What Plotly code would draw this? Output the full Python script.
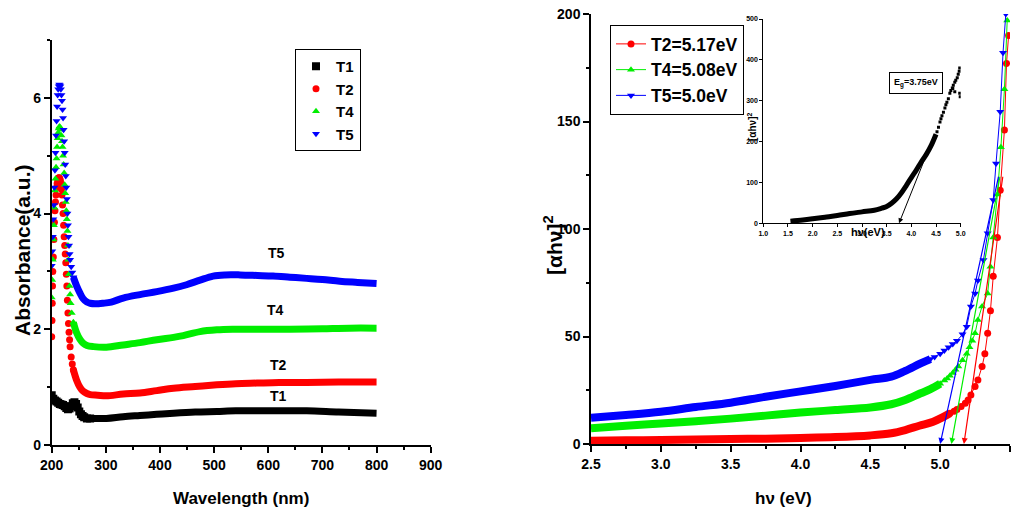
import plotly.graph_objects as go

W, H = 1016, 517
def px(x): return x / W
def py(y): return 1 - y / H

SANS = "Liberation Sans, Arial, sans-serif"

# ---------------- Left panel: absorbance vs wavelength ----------------
t1_peak_wl = [200, 203, 206, 209, 212, 215, 218, 221, 224, 227, 230, 233, 236, 239, 242, 245, 248, 251, 254, 257, 260, 265, 271]
t1_peak_ab = [0.86, 0.80, 0.77, 0.75, 0.73, 0.71, 0.70, 0.69, 0.67, 0.64, 0.62, 0.63, 0.67, 0.72, 0.74, 0.71, 0.65, 0.58, 0.53, 0.50, 0.48, 0.46, 0.46]
t1_tail_wl = [271, 301, 332, 363, 394, 425, 465, 505, 540, 579, 620, 671, 730, 800]
t1_tail_ab = [0.46, 0.46, 0.49, 0.51, 0.53, 0.55, 0.57, 0.58, 0.59, 0.59, 0.59, 0.59, 0.57, 0.55]

t2_peak_wl = [200, 200.5, 201, 201.5, 202, 203, 204, 205, 206, 207, 208, 209, 210, 211, 212, 213, 214, 215, 216, 217, 218, 219, 220, 221, 222, 223, 224, 225, 226, 227, 228, 229, 230, 231, 232, 233, 234, 236, 238, 240]
t2_peak_ab = [1.87, 2.15, 2.45, 2.75, 3.00, 3.25, 3.55, 3.85, 4.05, 4.20, 4.32, 4.45, 4.52, 4.58, 4.61, 4.62, 4.62, 4.60, 4.57, 4.52, 4.42, 4.32, 4.15, 4.00, 3.80, 3.60, 3.45, 3.30, 3.15, 2.95, 2.75, 2.50, 2.28, 2.10, 1.95, 1.82, 1.70, 1.52, 1.40, 1.30]
t2_tail_wl = [240, 246, 252, 258, 265, 271, 285, 301, 332, 363, 394, 425, 465, 505, 540, 579, 620, 671, 730, 800]
t2_tail_ab = [1.30, 1.12, 1.00, 0.93, 0.89, 0.87, 0.86, 0.85, 0.88, 0.90, 0.94, 0.98, 1.01, 1.04, 1.06, 1.07, 1.08, 1.08, 1.09, 1.09]

t4_peak_wl = [200, 201, 202, 203, 204, 205, 206, 207, 208, 209, 210, 211, 212, 213, 214, 215, 216, 217, 218, 219, 220, 221, 222, 223, 224, 225, 226, 227, 228, 229, 230, 231, 232, 233, 234, 235, 237, 240]
t4_peak_ab = [2.55, 2.85, 3.20, 3.55, 3.80, 4.10, 4.40, 4.60, 4.80, 4.95, 5.15, 5.30, 5.40, 5.47, 5.50, 5.50, 5.48, 5.45, 5.35, 5.25, 5.15, 5.00, 4.85, 4.70, 4.50, 4.35, 4.20, 4.05, 3.90, 3.70, 3.45, 3.20, 2.95, 2.75, 2.60, 2.45, 2.28, 2.12]
t4_tail_wl = [240, 246, 252, 258, 265, 277, 301, 332, 363, 394, 425, 443, 474, 505, 535, 566, 600, 640, 700, 750, 800]
t4_tail_ab = [2.12, 1.94, 1.83, 1.76, 1.72, 1.70, 1.69, 1.73, 1.77, 1.82, 1.86, 1.89, 1.96, 1.99, 2.00, 2.00, 2.00, 2.00, 2.01, 2.02, 2.02]

t5_peak_wl = [200, 201, 202, 203, 204, 205, 206, 207, 208, 209, 210, 211, 212, 213, 214, 215, 216, 217, 218, 219, 220, 221, 222, 223, 224, 225, 226, 227, 228, 229, 230, 231, 232, 233, 234, 236, 238, 240]
t5_peak_ab = [3.10, 3.35, 3.60, 3.90, 4.15, 4.45, 4.75, 5.05, 5.35, 5.60, 5.85, 6.05, 6.15, 6.20, 6.23, 6.22, 6.20, 6.15, 6.05, 5.95, 5.80, 5.65, 5.45, 5.25, 5.05, 4.85, 4.65, 4.45, 4.25, 4.00, 3.80, 3.60, 3.45, 3.30, 3.20, 3.08, 2.98, 2.90]
t5_tail_wl = [240, 246, 252, 258, 265, 271, 280, 295, 310, 332, 363, 394, 425, 449, 474, 498, 520, 548, 580, 609, 640, 671, 700, 732, 765, 800]
t5_tail_ab = [2.90, 2.75, 2.63, 2.53, 2.47, 2.45, 2.44, 2.45, 2.47, 2.54, 2.60, 2.65, 2.71, 2.77, 2.85, 2.92, 2.94, 2.94, 2.93, 2.92, 2.90, 2.88, 2.86, 2.83, 2.81, 2.79]

left_names = ["T1", "T2", "T4", "T5"]
left_colors = ["#000000", "#ff0000", "#00ee00", "#0000ff"]
left_symbols = ["square", "circle", "triangle-up", "triangle-down"]
left_label_wl = [619, 619, 613, 616]
left_label_ab = [0.84, 1.38, 2.34, 3.32]

# ---------------- Right panel: Tauc plot ----------------
t2_flat_e = [2.5, 2.75, 3.0, 3.25, 3.5, 3.75, 4.0, 4.25, 4.5, 4.65, 4.75, 4.85, 4.95, 5.02, 5.07]
t2_flat_v = [1.5, 1.7, 1.9, 2.1, 2.3, 2.5, 2.8, 3.2, 4.0, 5.0, 6.5, 8.5, 10.4, 12.5, 14.3]
t2_steep_e = [5.07, 5.10, 5.12, 5.15, 5.18, 5.20, 5.22, 5.25, 5.27, 5.30, 5.32, 5.34, 5.36, 5.38, 5.41, 5.43, 5.46, 5.475, 5.49]
t2_steep_v = [14.3, 15.2, 16.0, 17.4, 19.0, 20.5, 22.8, 26.7, 29.8, 36, 42, 51.5, 62, 78, 96, 118, 146, 177, 190]

t4_flat_e = [2.5, 2.75, 3.0, 3.25, 3.5, 3.75, 4.0, 4.25, 4.5, 4.65, 4.75, 4.86, 4.93, 5.00]
t4_flat_v = [7.3, 8.5, 9.5, 10.6, 11.8, 13.2, 14.6, 15.8, 17.0, 18.5, 20.5, 23.6, 25.5, 28]
t4_steep_e = [5.00, 5.03, 5.05, 5.07, 5.09, 5.11, 5.13, 5.16, 5.19, 5.21, 5.23, 5.25, 5.27, 5.30, 5.34, 5.36, 5.38, 5.41, 5.435, 5.46, 5.48]
t4_steep_v = [28, 29.5, 30.5, 31.8, 33, 34.5, 36, 39, 42, 45, 48, 51.5, 57.7, 64, 70, 82.5, 96, 116, 138, 165, 197]

t5_flat_e = [2.5, 2.75, 3.0, 3.25, 3.5, 3.75, 4.0, 4.25, 4.5, 4.65, 4.75, 4.86, 4.93]
t5_flat_v = [12.2, 13.5, 15.0, 17.2, 19.2, 22.0, 24.5, 27.0, 29.8, 31.3, 34.0, 37.5, 39.5]
t5_steep_e = [4.93, 4.96, 5.00, 5.03, 5.06, 5.09, 5.12, 5.16, 5.19, 5.22, 5.25, 5.27, 5.31, 5.34, 5.38, 5.40, 5.43, 5.45, 5.47]
t5_steep_v = [39.5, 40.5, 42, 43.5, 45, 46.5, 48, 51, 54.5, 64, 70, 76, 85.6, 98, 113.5, 130.5, 154.5, 182, 200]

right_names = ["T2=5.17eV", "T4=5.08eV", "T5=5.0eV"]
right_colors = ["#ff0000", "#00ee00", "#0000ff"]
right_symbols = ["circle", "triangle-up", "triangle-down"]
gap_eg = [5.17, 5.08, 5.0]
fit_top_e = [5.45, 5.43, 5.42]
fit_top_v = [125, 125, 125]

# ---------------- Inset ----------------
inset_band_e = [1.55, 1.8, 2.0, 2.25, 2.5, 2.75, 3.0, 3.25, 3.4, 3.5, 3.6, 3.7, 3.8, 3.9, 4.0, 4.1, 4.2, 4.3, 4.4, 4.5]
inset_band_v = [5, 8, 11, 15, 19, 24, 28, 32, 37, 41, 49, 60, 75, 93, 112, 130, 150, 168, 190, 218]
inset_dot_e = [4.52, 4.55, 4.58, 4.6, 4.62, 4.65, 4.68, 4.7, 4.72, 4.75, 4.78, 4.8, 4.83, 4.85, 4.88, 4.9, 4.93, 4.95, 4.97, 4.98, 4.99, 4.98, 4.88, 4.84]
inset_dot_v = [224, 235, 248, 256, 263, 272, 282, 290, 296, 305, 318, 325, 331, 338, 345, 350, 356, 365, 372, 380, 310, 318, 322, 330]
inset_eg = 3.75

fig = go.Figure()

peaks = [(t1_peak_wl, t1_peak_ab), (t2_peak_wl, t2_peak_ab), (t4_peak_wl, t4_peak_ab), (t5_peak_wl, t5_peak_ab)]
tails = [(t1_tail_wl, t1_tail_ab), (t2_tail_wl, t2_tail_ab), (t4_tail_wl, t4_tail_ab), (t5_tail_wl, t5_tail_ab)]
for i in range(4):
    fig.add_trace(go.Scatter(x=tails[i][0], y=tails[i][1], mode="lines",
                             line=dict(color=left_colors[i], width=7, shape="spline"),
                             showlegend=False, legendgroup=left_names[i], xaxis="x", yaxis="y"))
    fig.add_trace(go.Scatter(x=peaks[i][0], y=peaks[i][1], mode="markers", name=left_names[i],
                             marker=dict(color=left_colors[i], symbol=left_symbols[i],
                                         size=(8 if i == 0 else 7), line=dict(width=0)),
                             legendgroup=left_names[i], legend="legend", xaxis="x", yaxis="y"))

flats = [(t2_flat_e, t2_flat_v), (t4_flat_e, t4_flat_v), (t5_flat_e, t5_flat_v)]
steeps = [(t2_steep_e, t2_steep_v), (t4_steep_e, t4_steep_v), (t5_steep_e, t5_steep_v)]
for i in range(3):
    fig.add_trace(go.Scatter(x=flats[i][0], y=flats[i][1], mode="lines",
                             line=dict(color=right_colors[i], width=8, shape="spline"),
                             showlegend=False, xaxis="x2", yaxis="y2"))
    fig.add_trace(go.Scatter(x=steeps[i][0], y=steeps[i][1], mode="lines+markers", name=right_names[i],
                             line=dict(color=right_colors[i], width=1),
                             marker=dict(color=right_colors[i], symbol=right_symbols[i], size=7, line=dict(width=0)),
                             legend="legend2", xaxis="x2", yaxis="y2"))

fig.add_trace(go.Scatter(x=inset_band_e, y=inset_band_v, mode="lines",
                         line=dict(color="black", width=5, shape="spline"),
                         showlegend=False, xaxis="x3", yaxis="y3"))
fig.add_trace(go.Scatter(x=inset_dot_e, y=inset_dot_v, mode="markers",
                         marker=dict(color="black", symbol="square", size=3),
                         showlegend=False, xaxis="x3", yaxis="y3"))

tickfont = dict(family=SANS, size=14, color="black", weight="bold")
axis_common = dict(showline=True, linecolor="black", linewidth=1.5, ticks="outside", ticklen=6,
                   tickwidth=1.5, tickcolor="black", showgrid=False, zeroline=False,
                   tickfont=tickfont, automargin=False)
minor_style = dict(ticklen=3, ticks="outside", tickcolor="black", tickwidth=1.5)
inset_common = dict(showline=True, linecolor="black", linewidth=1, ticks="outside", ticklen=3,
                    tickcolor="black", showgrid=False, zeroline=False, automargin=False,
                    tickfont=dict(family=SANS, size=7, color="black", weight="bold"))

fig.update_layout(
    width=W, height=H, margin=dict(l=0, r=0, t=0, b=0, autoexpand=False),
    paper_bgcolor="white", plot_bgcolor="white",
    xaxis=dict(domain=[px(51.7), px(430.7)], range=[200, 900], dtick=100, anchor="y",
               minor=dict(dtick=50, **minor_style), **axis_common),
    yaxis=dict(domain=[py(445), py(40)], range=[0, 7], dtick=2, anchor="x",
               minor=dict(dtick=1, **minor_style), **axis_common),
    xaxis2=dict(domain=[px(591), px(1010)], range=[2.5, 5.5], dtick=0.5, tickformat=".1f", anchor="y2",
                minor=dict(dtick=0.25, **minor_style), **axis_common),
    yaxis2=dict(domain=[py(444), py(14)], range=[0, 200], dtick=50, anchor="x2",
                minor=dict(dtick=25, **minor_style), **axis_common),
    xaxis3=dict(domain=[px(763.3), px(960.7)], range=[1, 5], dtick=0.5, tickformat=".1f", anchor="y3",
                **inset_common),
    yaxis3=dict(domain=[py(223.3), py(19)], range=[0, 500], dtick=100, anchor="x3", **inset_common),
    legend=dict(x=px(295), y=py(49), xanchor="left", yanchor="top", bgcolor="white",
                bordercolor="black", borderwidth=1, itemwidth=30, tracegroupgap=0,
                font=dict(family=SANS, size=15, color="black", weight="bold")),
    legend2=dict(x=px(610), y=py(25), xanchor="left", yanchor="top", bgcolor="white",
                 bordercolor="black", borderwidth=1, itemwidth=30,
                 font=dict(family=SANS, size=17.5, color="black", weight="bold")),
)

def label(text, x, y, size, family=SANS, angle=0, xref="paper", yref="paper", **kw):
    return dict(text=text, xref=xref, yref=yref, x=x, y=y, textangle=angle, showarrow=False,
                xanchor="center", yanchor="middle",
                font=dict(family=family, size=size, color="black", weight="bold"), **kw)

ann = []
# axis titles
ann.append(label("Absorbance(a.u.)", px(22), py(250), 21, angle=-90))
ann.append(label("Wavelength (nm)", px(241), py(498), 17))
ann.append(label("[αhν]<sup>2</sup>", px(553), py(245), 21, angle=-90))
ann.append(label("hν (eV)", px(783), py(498), 17))
ann.append(label("hν(eV)", px(868), py(232), 11))
ann.append(label("[αhν]<sup>2</sup>", px(752), py(127), 10, angle=-90))
# curve labels (left)
for i in range(4):
    ann.append(label(left_names[i], left_label_wl[i], left_label_ab[i], 14, xref="x", yref="y"))
# tangent arrows (right)
for i in range(3):
    ann.append(dict(text="", xref="x2", yref="y2", axref="x2", ayref="y2", x=gap_eg[i], y=0,
                    ax=fit_top_e[i], ay=fit_top_v[i], showarrow=True, arrowhead=2, arrowsize=1,
                    arrowwidth=1.2, arrowcolor=right_colors[i], standoff=0))
# inset tangent + label
ann.append(dict(text="", xref="x3", yref="y3", axref="x3", ayref="y3", x=inset_eg, y=0,
                ax=4.38, ay=190, showarrow=True, arrowhead=2, arrowsize=1, arrowwidth=1,
                arrowcolor="black", standoff=0))
ann.append(label("E<sub>g</sub>=3.75eV", 4.1, 344, 9, xref="x3", yref="y3",
                 bordercolor="black", borderwidth=1, borderpad=4, bgcolor="white"))
fig.update_layout(annotations=ann)

# remove the default 8px page margin so the figure sits at the window's top-left corner
fig.write_html("out.html", config={"displayModeBar": False},
               post_script="document.body.style.margin='0';")
